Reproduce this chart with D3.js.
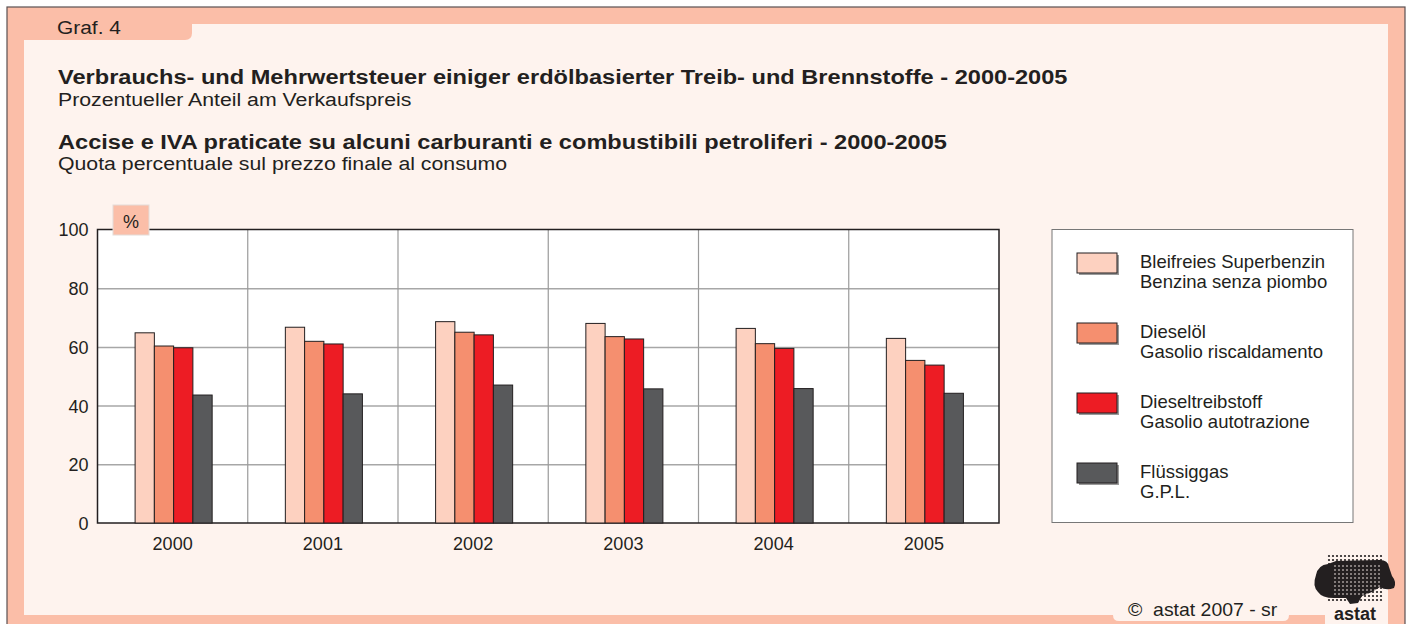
<!DOCTYPE html>
<html>
<head>
<meta charset="utf-8">
<script src="https://cdn.jsdelivr.net/npm/d3@7"></script>
<style>
  body { margin: 0; background: #fff; }
  svg { display: block; font-family: "Liberation Sans", Arial, sans-serif; }
</style>
</head>
<body>
<svg id="chart" width="1409" height="624"></svg>
<script>
// values (percent of final price)
var years = ['2000', '2001', '2002', '2003', '2004', '2005'];
var seriesDe = ['Bleifreies Superbenzin', 'Dieselöl', 'Dieseltreibstoff', 'Flüssiggas'];
var seriesIt = ['Benzina senza piombo', 'Gasolio riscaldamento', 'Gasolio autotrazione', 'G.P.L.'];
var benzina = [64.8, 66.7, 68.6, 68.0, 66.3, 62.9];
var gasolioRisc = [60.3, 61.9, 65.0, 63.5, 61.1, 55.4];
var gasolioAuto = [59.7, 61.0, 64.1, 62.7, 59.5, 53.8];
var gpl = [43.6, 44.0, 47.0, 45.7, 45.8, 44.2];
var yTicks = [0, 20, 40, 60, 80, 100];

(function(){
    var svg = d3.select('#chart');
    var salmon = '#fbbea8', cream = '#fef3ee', ink = '#231f20';
    var colors = ['#fdd1c0', '#f58f6f', '#ed1c24', '#58595b'];
    var values = [benzina, gasolioRisc, gasolioAuto, gpl];

    // text that is a bit wider than the font (the original is stretched sideways)
    function wideText(x, y, size, sx, txt, bold) {
        return svg.append('text')
            .attr('transform', 'translate(' + x + ',' + y + ') scale(' + sx + ',1)')
            .attr('font-size', size).attr('font-weight', bold ? 'bold' : 'normal')
            .attr('fill', ink).text(txt);
    }

    // frame: salmon band, cream inside, tabs
    svg.append('rect').attr('x', 7).attr('y', 7).attr('width', 1398).attr('height', 630)
        .attr('fill', salmon).attr('stroke', '#5a5052').attr('stroke-width', 1.2);
    svg.append('rect').attr('x', 24).attr('y', 24).attr('width', 1364).attr('height', 591)
        .attr('fill', cream);
    // "Graf. 4" tab with rounded corner
    svg.append('path')
        .attr('d', 'M24,24 H192 V33 Q192,40 185,40 H24 Z')
        .attr('fill', salmon);
    wideText(57, 34, 19, 1.1, 'Graf. 4');
    // copyright tab at the bottom
    svg.append('path')
        .attr('d', 'M1113,614 V615 Q1113,621 1119,621 H1283 Q1289,621 1289,615 V614 Z')
        .attr('fill', cream);
    wideText(1128, 616, 18, 1.08, '©  astat 2007 - sr').attr('xml:space', 'preserve');

    // titles
    wideText(58, 84, 21, 1.124, 'Verbrauchs- und Mehrwertsteuer einiger erdölbasierter Treib- und Brennstoffe - 2000-2005', true);
    wideText(58, 106, 19, 1.12, 'Prozentueller Anteil am Verkaufspreis');
    wideText(58, 149, 21, 1.124, 'Accise e IVA praticate su alcuni carburanti e combustibili petroliferi - 2000-2005', true);
    wideText(58, 170, 19, 1.12, 'Quota percentuale sul prezzo finale al consumo');

    // scales
    var left = 97.5, right = 999, top = 229.5, bottom = 523;
    var x = d3.scaleBand().domain(years).range([left, right]);
    var x1 = d3.scaleBand().domain(d3.range(seriesDe.length)).range([0, x.bandwidth()])
        .paddingOuter(1.9);
    var y = d3.scaleLinear().domain([0, 100]).range([bottom, top]);

    svg.append('rect').attr('x', left).attr('y', top).attr('width', right - left)
        .attr('height', bottom - top).attr('fill', '#fff');

    // gridlines
    svg.append('g').attr('transform', 'translate(' + left + ',0)')
        .call(d3.axisLeft(y).tickValues([20, 40, 60, 80]).tickSize(-(right - left)).tickFormat(''))
        .call(function(g){
            g.select('.domain').remove();
            g.selectAll('line').attr('stroke', '#a7a7a7').attr('stroke-width', 1.5);
        });
    svg.append('g').attr('transform', 'translate(0,' + bottom + ')')
        .call(d3.axisBottom(x).tickValues(years.slice(1)).tickSize(-(bottom - top)).tickFormat(''))
        .call(function(g){
            g.select('.domain').remove();
            g.selectAll('.tick').attr('transform', function(d){ return 'translate(' + x(d) + ',0)'; });
            g.selectAll('line').attr('stroke', '#9a9a9a').attr('stroke-width', 1.2);
        });

    // plot border
    svg.append('rect').attr('x', left).attr('y', top).attr('width', right - left)
        .attr('height', bottom - top).attr('fill', 'none').attr('stroke', ink).attr('stroke-width', 1.5);

    // bars
    var groups = svg.append('g').selectAll('g')
        .data(years)
        .enter().append('g')
        .attr('transform', function(d){ return 'translate(' + (x(d) + 1) + ',0)'; });
    groups.selectAll('rect')
        .data(function(d, i){
            return values.map(function(s, k){ return {k: k, v: s[i]}; });
        })
        .enter().append('rect')
        .attr('x', function(d){ return x1(d.k); })
        .attr('y', function(d){ return y(d.v); })
        .attr('width', x1.bandwidth())
        .attr('height', function(d){ return bottom - y(d.v); })
        .attr('fill', function(d){ return colors[d.k]; })
        .attr('stroke', ink).attr('stroke-width', 1);

    // y axis labels
    svg.append('g').attr('transform', 'translate(' + left + ',0)')
        .call(d3.axisLeft(y).tickValues(yTicks).tickSize(0).tickPadding(9))
        .call(function(g){
            g.select('.domain').remove();
            g.selectAll('text').attr('font-size', 18).attr('font-family', 'Liberation Sans, Arial, sans-serif')
                .attr('fill', ink).attr('dy', '0.36em');
        });
    // x axis labels
    svg.append('g').attr('transform', 'translate(0,' + bottom + ')')
        .call(d3.axisBottom(x).tickSize(0).tickPadding(14))
        .call(function(g){
            g.select('.domain').remove();
            g.selectAll('text').attr('font-size', 18).attr('font-family', 'Liberation Sans, Arial, sans-serif')
                .attr('fill', ink);
        });

    // "%" tab
    svg.append('rect').attr('x', 113).attr('y', 205).attr('width', 36).attr('height', 30)
        .attr('fill', salmon).attr('stroke', '#e3dcd8').attr('stroke-width', 1);
    svg.append('text').attr('x', 131).attr('y', 228).attr('text-anchor', 'middle')
        .attr('font-size', 18).attr('fill', ink).text('%');

    // legend
    var legend = svg.append('g');
    legend.append('rect').attr('x', 1052).attr('y', 229.5).attr('width', 301).attr('height', 293)
        .attr('fill', '#fff').attr('stroke', '#777').attr('stroke-width', 1);
    var items = legend.selectAll('g.item')
        .data(seriesDe)
        .enter().append('g').attr('class', 'item')
        .attr('transform', function(d, i){ return 'translate(1077,' + (253 + i * 70) + ')'; });
    items.append('rect').attr('x', 2).attr('y', 2).attr('width', 40).attr('height', 20)
        .attr('fill', '#9a9a9a');
    items.append('rect').attr('width', 40).attr('height', 20)
        .attr('fill', function(d, i){ return colors[i]; })
        .attr('stroke', ink).attr('stroke-width', 1);
    items.append('text').attr('x', 63).attr('y', 15).attr('font-size', 18.5).attr('fill', ink)
        .text(function(d){ return d; });
    items.append('text').attr('x', 63).attr('y', 35).attr('font-size', 18.5).attr('fill', ink)
        .text(function(d, i){ return seriesIt[i]; });

    // astat logo: halftone map over a cream patch
    var logo = svg.append('g');
    logo.append('rect').attr('x', 1325).attr('y', 600).attr('width', 63).attr('height', 30).attr('fill', cream);
    var grid = [];
    for (var r = 0; r < 12; r++) {
        for (var c = 0; c < 14; c++) {
            grid.push([1329 + c * 4, 556 + r * 4]);
        }
    }
    logo.selectAll('circle.dot').data(grid).enter().append('circle').attr('class', 'dot')
        .attr('cx', function(d){ return d[0]; }).attr('cy', function(d){ return d[1]; })
        .attr('r', 1.1).attr('fill', ink);
    logo.append('path')
        .attr('d', 'M1316,575 Q1318,565 1328,564 L1336,561 L1380,560 Q1388,560 1389,567 L1392,576 Q1397,582 1394,588 Q1386,591 1380,587 L1372,592 L1362,596 L1358,603 L1350,604 L1346,598 L1334,598 Q1322,598 1318,592 Q1312,586 1316,575 Z')
        .attr('fill', ink);
    // small light holes give the dotted texture inside the map
    logo.selectAll('circle.hole').data(grid.filter(function(d){
            return d[0] > 1330 && d[0] < 1378 && d[1] > 562 && d[1] < 596;
        })).enter().append('circle').attr('class', 'hole')
        .attr('cx', function(d){ return d[0] + 2; }).attr('cy', function(d){ return d[1] + 2; })
        .attr('r', 0.8).attr('fill', cream);
    logo.append('text').attr('x', 1355).attr('y', 620).attr('text-anchor', 'middle')
        .attr('font-size', 18).attr('font-weight', 'bold').attr('fill', ink).text('astat');
})();
</script>
</body>
</html>
